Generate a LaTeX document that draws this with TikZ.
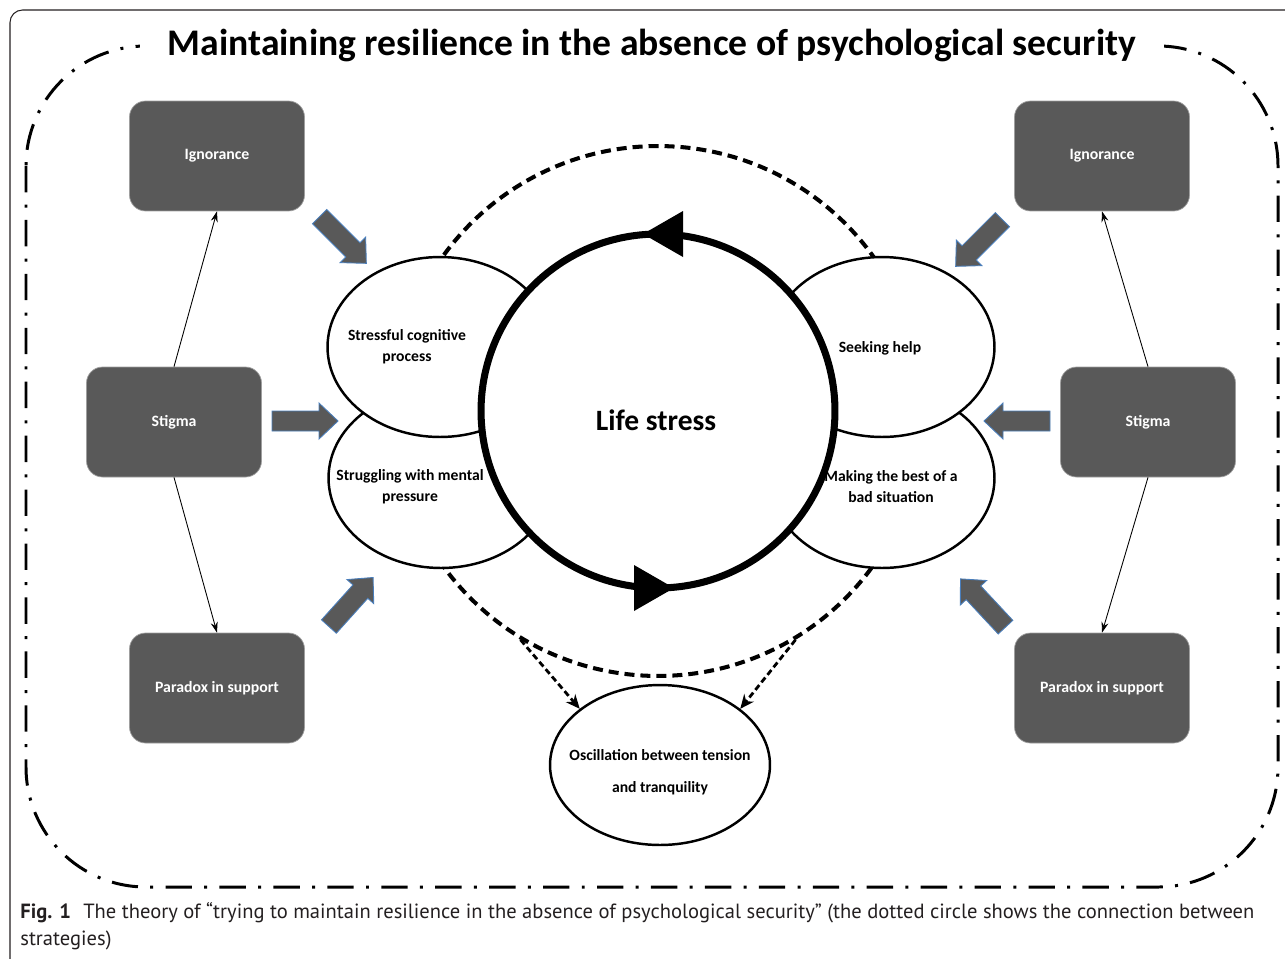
\documentclass[tikz,border=0pt]{standalone}
\usepackage{fontspec}
\setmainfont{Carlito}
\newfontfamily\capfont{PT Sans}
\usetikzlibrary{shapes.geometric,arrows.meta}

\definecolor{boxgray}{HTML}{595959}
\definecolor{arrblue}{HTML}{4A7EBB}
\definecolor{capgray}{HTML}{231F20}

\tikzset{
  factor/.style={rectangle, rounded corners=0.32cm, fill=boxgray, draw=gray!75,
    line width=0.4pt, minimum width=3.5cm, minimum height=2.2cm, text=white,
    font=\bfseries\fontsize{9}{11}\selectfont},
  strategy/.style={ellipse, draw, fill=white, line width=1.4pt,
    minimum width=4.5cm, minimum height=3.6cm},
  lbl/.style={align=center, font=\bfseries\fontsize{8.9}{12}\selectfont},
  thinarr/.style={-{Stealth[length=6pt,width=4pt]}, line width=0.5pt},
  dotarr/.style={-{Stealth[length=8pt,width=7pt]}, line width=1.6pt,
    dash pattern=on 3.5pt off 2pt},
  ringline/.style={line width=2.3pt, dash pattern=on 5.7pt off 3.4pt},
  borderline/.style={line width=1.7pt, dash pattern=on 15pt off 7pt on 1.7pt off 7pt},
  pics/fatarr/.style={code={
    \path[fill=boxgray, draw=arrblue, line width=0.5pt]
      (-33,-10) -- (14,-10) -- (14,-18) -- (33,0) -- (14,18) -- (14,10) -- (-33,10) -- cycle;
  }}
}

\begin{document}
\begin{tikzpicture}[x=0.02cm, y=-0.02cm]
\useasboundingbox (0,0) rectangle (1285,958);

% frame and border
\begin{scope}
  \clip (0,0) rectangle (1285,958);
  \draw[capgray, line width=0.6pt, rounded corners=0.25cm] (10,10) rectangle (1320,990);
\end{scope}
\draw[borderline, rounded corners=2.4cm] (26,46) rectangle (1278,887);
\node[fill=white, inner xsep=16pt, font=\bfseries\fontsize{21.4}{26}\selectfont] (title) at (652,45)
  {Maintaining resilience in the absence of psychological security};

% factors
\node[factor] (ignL) at (217,156) {Ignorance};
\node[factor] (stigL) at (174,422) {Stigma};
\node[factor] (parL) at (217,688) {Paradox in support};
\node[factor] (ignR) at (1102,156) {Ignorance};
\node[factor] (stigR) at (1148,422) {Stigma};
\node[factor] (parR) at (1102,688) {Paradox in support};

\draw[thinarr] (stigL.north) -- (ignL.south);
\draw[thinarr] (stigL.south) -- (parL.north);
\draw[thinarr] (stigR.north) -- (ignR.south);
\draw[thinarr] (stigR.south) -- (parR.north);

% dotted circle between strategies
\node[circle, draw, ringline, minimum size=10.6cm] (ring) at (658,411) {};

% strategies
\node[strategy] (strug) at (441,478) {};
\node[strategy] (best) at (882,478) {};
\node[strategy] (stress) at (440,347) {};
\node[strategy] (seek) at (882,347) {};

\node[circle, draw, fill=white, line width=4pt, minimum size=7.08cm] (life) at (658,411) {};
\fill (643,234) -- (683,211) -- (683,257) -- cycle;
\fill (674,588) -- (634,565) -- (634,611) -- cycle;

\node[ellipse, draw, fill=white, line width=1.4pt, minimum width=4.4cm, minimum height=3.2cm] (osc) at (660,765) {};
\draw[dotarr] (ring.-121) -- (osc.145);
\draw[dotarr] (ring.-59) -- (osc.35);

% block arrows
\pic[rotate=-45] at (343,240) {fatarr};
\pic at (305,421) {fatarr};
\pic[rotate=48] at (351,602) {fatarr};
\pic[rotate=-135] at (979,243) {fatarr};
\pic[rotate=180] at (1017,421) {fatarr};
\pic[rotate=133] at (983,603) {fatarr};

% labels
\node[font=\bfseries\fontsize{16.8}{20}\selectfont] (lifetxt) at (656,420) {Life stress};
\node[lbl] (stresstxt) at (407,347) {Stressful cognitive\\process};
\node[lbl] (strugtxt) at (410,487) {Struggling with mental\\pressure};
\node[lbl] (seektxt) at (880,348) {Seeking help};
\node[lbl] (besttxt) at (891,487) {Making the best of a\\bad situation};
\node[align=center, font=\bfseries\fontsize{8.9}{18}\selectfont] (osctxt) at (660,772)
  {Oscillation between tension\\and tranquility};

% caption
\node[anchor=base west, inner sep=0pt, text=capgray, font=\capfont\fontsize{11.7}{14}\selectfont] (cap1) at (20,918)
  {\textbf{Fig. 1}\hspace{0.6em}The theory of “trying to maintain resilience in the absence of psychological security” (the dotted circle shows the connection between};
\node[anchor=base west, inner sep=0pt, text=capgray, font=\capfont\fontsize{11.7}{14}\selectfont] (cap2) at (20,945)
  {strategies)};
\end{tikzpicture}
\end{document}
